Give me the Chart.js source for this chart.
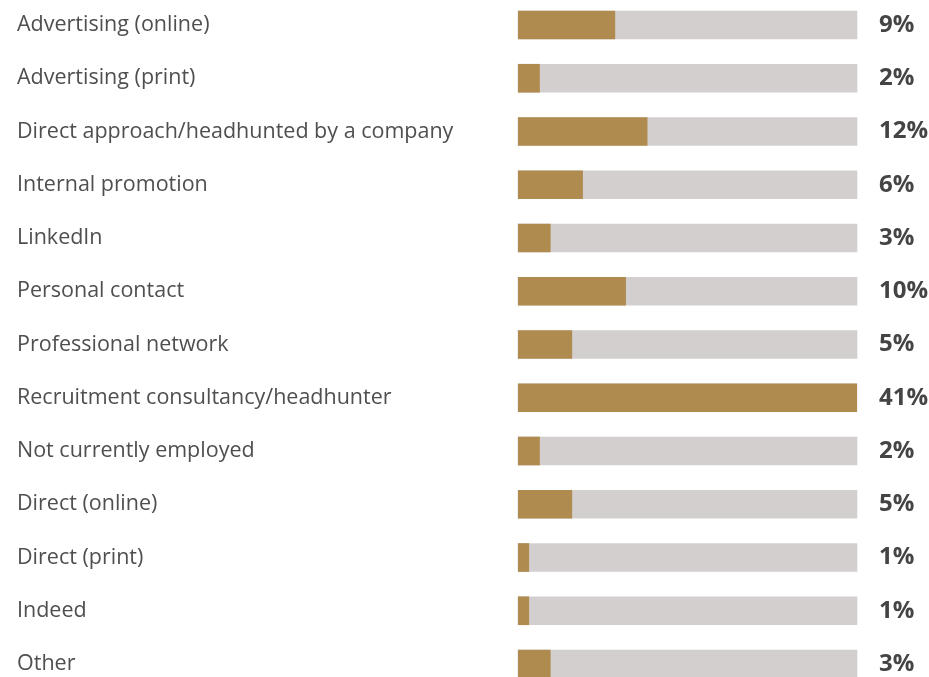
<!DOCTYPE html>
<html>
<head>
<meta charset="utf-8">
<script src="https://cdn.jsdelivr.net/npm/chart.js@4/dist/chart.umd.min.js"></script>
<style>
  html, body { margin: 0; padding: 0; background: #ffffff; }
  #wrap { width: 929px; height: 677px; position: relative; }
</style>
</head>
<body>
<div id="wrap"><canvas id="chart"></canvas></div>
<script>
// Channel through which respondents found their current role
const categories = [
  'Advertising (online)',
  'Advertising (print)',
  'Direct approach/headhunted by a company',
  'Internal promotion',
  'LinkedIn',
  'Personal contact',
  'Professional network',
  'Recruitment consultancy/headhunter',
  'Not currently employed',
  'Direct (online)',
  'Direct (print)',
  'Indeed',
  'Other'
];
const shares = [9, 2, 12, 6, 3, 10, 5, 41, 2, 5, 1, 1, 3];
const valueLabels = shares.map(v => v + '%');

// Scale ceiling: the full grey track represents this share
const AXIS_MAX = 31.5;
const track = categories.map(() => AXIS_MAX);

const GOLD = '#B08B4F';
const TRACK = '#D3CFCF';
const TEXT = '#4f4f4f';
const FONT = '"Open Sans", "Noto Sans", sans-serif';

// Percentage printed to the right of each row
const valueLabelPlugin = {
  id: 'valueLabels',
  afterDatasetsDraw(chart) {
    const { ctx, chartArea } = chart;
    const meta = chart.getDatasetMeta(0);
    ctx.save();
    ctx.font = 'bold 24px ' + FONT;
    ctx.fillStyle = '#444444';
    ctx.textAlign = 'left';
    ctx.textBaseline = 'middle';
    meta.data.forEach((bar, i) => {
      ctx.fillText(valueLabels[i], chartArea.right + 22, bar.y);
    });
    ctx.restore();
  }
};

new Chart(document.getElementById('chart'), {
  type: 'bar',
  data: {
    labels: categories,
    datasets: [
      {
        data: shares,
        backgroundColor: GOLD,
        order: 1,
        // bars past the scale ceiling stop at the right edge of the track
        clip: { left: 0, right: 0, top: false, bottom: false }
      },
      {
        data: track,
        backgroundColor: TRACK,
        order: 2,
        clip: false
      }
    ]
  },
  options: {
    indexAxis: 'y',
    responsive: true,
    maintainAspectRatio: false,
    animation: false,
    datasets: {
      bar: { grouped: false, barThickness: 28, borderWidth: 0 }
    },
    layout: { padding: { left: 17, right: 72, top: 25, bottom: 13 } },
    plugins: {
      legend: { display: false },
      tooltip: { enabled: false }
    },
    scales: {
      x: {
        display: false,
        min: 0,
        max: AXIS_MAX
      },
      y: {
        offset: false,
        grid: { display: false, drawTicks: false },
        border: { display: false },
        ticks: {
          crossAlign: 'far',
          padding: 0,
          color: TEXT,
          font: { family: FONT, size: 21.5 }
        },
        afterFit(scale) { scale.width = 501; }
      }
    }
  },
  plugins: [valueLabelPlugin]
});
</script>
</body>
</html>
